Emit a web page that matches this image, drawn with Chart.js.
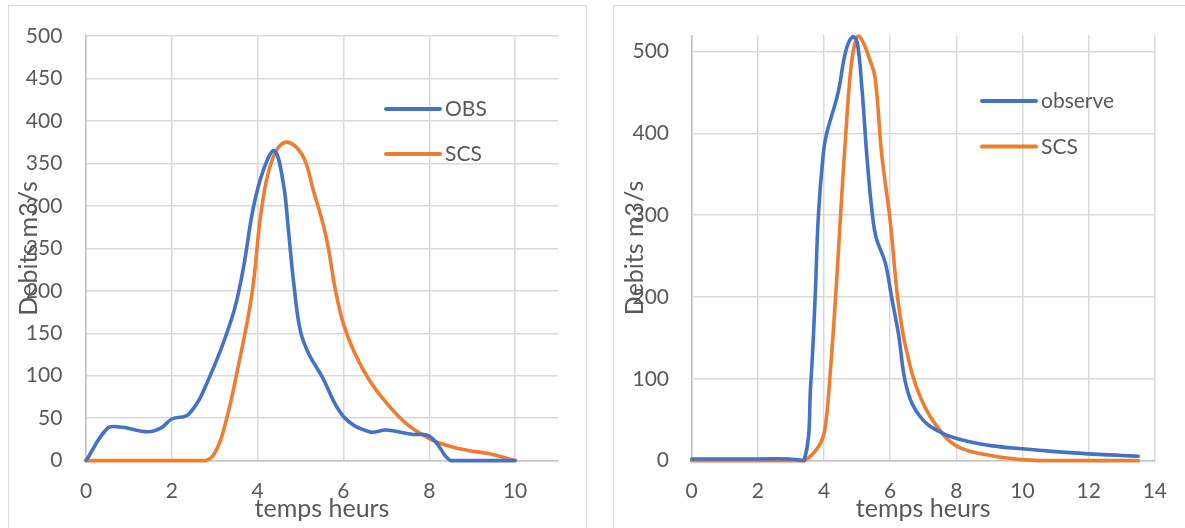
<!DOCTYPE html>
<html>
<head>
<meta charset="utf-8">
<script src="https://cdn.jsdelivr.net/npm/chart.js@4/dist/chart.umd.min.js"></script>
<style>
  html, body { margin: 0; padding: 0; background: #ffffff; }
  body { width: 1185px; height: 528px; position: relative; overflow: hidden; }
  .frame { position: absolute; border: 1px solid #d9d9d9; box-sizing: border-box; }
  .wrap { position: absolute; top: 0; height: 528px; }
  canvas { display: block; }
</style>
</head>
<body>
<div class="frame" style="left:8px; top:5px; width:579px; height:560px;"></div>
<div class="frame" style="left:613px; top:5px; width:620px; height:560px;"></div>
<div class="wrap" style="left:0; width:590px;"><canvas id="left" width="590" height="528"></canvas></div>
<div class="wrap" style="left:600px; width:585px;"><canvas id="right" width="585" height="528"></canvas></div>
<script>
// Hydrograph 1 (hours, m3/s)
const obsTime1 = [0, 0.5, 0.8, 1.45, 1.75, 2.0, 2.4, 2.85, 3.4, 3.65, 3.9, 4.14, 4.39, 4.6, 4.72, 4.85, 5.0, 5.2, 5.5, 6.0, 6.6, 7.0, 7.6, 7.95, 8.15, 8.5, 9.0, 10];
const obsFlow1 = [0, 38, 39.5, 34, 38.5, 49, 55, 95, 168, 222, 298, 343, 365, 326, 270, 205, 152, 125, 99, 52, 34, 36, 31, 30, 22, 0, 0, 0];
const scsTime1 = [0, 1, 2, 2.8, 3.07, 3.3, 3.47, 3.86, 4.09, 4.33, 4.64, 5.03, 5.3, 5.59, 5.82, 6.0, 6.25, 6.6, 7.0, 7.5, 8.0, 8.5, 8.9, 9.4, 10];
const scsFlow1 = [0, 0, 0, 0, 16, 54, 92, 194, 296, 353, 375, 361, 318, 265, 199, 161, 128, 95, 68, 42, 26, 16.5, 12, 8, 0];

// Hydrograph 2 (hours, m3/s)
const obsTime2 = [0, 1, 2, 2.95, 3.4, 3.6, 3.73, 3.83, 3.98, 4.08, 4.42, 4.66, 4.86, 5.0, 5.15, 5.3, 5.45, 5.58, 5.85, 6.05, 6.25, 6.5, 6.92, 7.56, 8.3, 9.1, 10, 11, 12, 13, 13.5];
const obsFlow2 = [2, 2, 2, 2, 0, 95, 198, 300, 376, 400, 449, 501, 518, 512, 453, 370, 305, 272, 242, 198, 155, 89, 53, 34, 24, 18, 14.4, 11, 8.2, 6.3, 5.3];
const scsTime2 = [0, 1, 2, 3, 3.4, 3.83, 4.02, 4.17, 4.35, 4.5, 4.65, 4.8, 4.92, 5.04, 5.2, 5.35, 5.54, 5.74, 6.0, 6.23, 6.48, 6.92, 7.56, 8.1, 9.08, 10, 10.5, 11, 12, 13, 13.5];
const scsFlow2 = [0, 0, 0, 0, 0, 17, 37, 98, 200, 300, 395, 475, 508, 519, 510, 494, 469, 376, 293, 198, 137, 77, 34, 16, 6, 1.2, 0, 0, 0, 0, 0];

// Axis settings
const xTicks1 = { min: 0, max: 11, step: 2 };
const yTicks1 = { min: 0, max: 500, step: 50 };
const xTicks2 = { min: 0, max: 14, step: 2 };
const yTicks2 = { min: 0, max: 520, step: 100 };

const labels1 = ['OBS', 'SCS'];
const labels2 = ['observe', 'SCS'];
const xTitle = 'temps heurs';
const yTitle = 'Debits m3/s';

const BLUE = '#4472C4';
const ORANGE = '#ED7D31';
const TEXT = '#595959';
const FONT = 'Lato, "Open Sans", sans-serif';

function pairs(xs, ys) { return xs.map((x, i) => ({ x: x, y: ys[i] })); }

// Legend drawn inside the plot area
const innerLegend = {
  id: 'innerLegend',
  afterDraw(chart, args, opts) {
    const ctx = chart.ctx;
    ctx.save();
    ctx.font = '21px ' + FONT;
    ctx.textBaseline = 'middle';
    ctx.textAlign = 'left';
    chart.data.datasets.forEach((ds, i) => {
      const y = opts.y + i * opts.gap;
      ctx.strokeStyle = ds.borderColor;
      ctx.lineWidth = 4;
      ctx.lineCap = 'round';
      ctx.beginPath();
      ctx.moveTo(opts.x, y);
      ctx.lineTo(opts.x + opts.len, y);
      ctx.stroke();
      ctx.fillStyle = TEXT;
      ctx.fillText(ds.label, opts.x + opts.len + 5, y + 0.5);
    });
    ctx.restore();
  }
};

function makeChart(id, series, labels, xt, yt, geom) {
  return new Chart(document.getElementById(id), {
    type: 'line',
    data: {
      datasets: [
        { label: labels[0], data: series[0], borderColor: BLUE, backgroundColor: BLUE },
        { label: labels[1], data: series[1], borderColor: ORANGE, backgroundColor: ORANGE }
      ]
    },
    options: {
      responsive: false,
      animation: false,
      events: [],
      layout: { padding: { left: 0, top: geom.top, right: geom.right, bottom: 0 } },
      elements: {
        line: { borderWidth: 3.6, tension: 0.4, fill: false, borderCapStyle: 'round', borderJoinStyle: 'round' },
        point: { radius: 0 }
      },
      datasets: { line: { clip: 8 } },
      plugins: {
        legend: { display: false },
        tooltip: { enabled: false },
        innerLegend: geom.legend
      },
      scales: {
        x: {
          type: 'linear',
          min: xt.min, max: xt.max,
          afterFit: s => { s.height = geom.xAxisH; },
          ticks: { stepSize: xt.step, includeBounds: false, color: TEXT, padding: geom.xTickPad, maxRotation: 0,
                   font: { family: FONT, size: 21 } },
          grid: { color: '#d9d9d9', lineWidth: 1.5, drawTicks: false },
          border: { color: '#c4c4c4', width: 1.5 },
          title: { display: true, text: xTitle, color: TEXT, font: { family: FONT, size: 25 },
                   padding: { top: 0, bottom: geom.xTitlePad } }
        },
        y: {
          type: 'linear',
          min: yt.min, max: yt.max,
          afterFit: s => { s.width = geom.yAxisW; },
          ticks: { stepSize: yt.step, includeBounds: false, color: TEXT, padding: geom.yTickPad,
                   font: { family: FONT, size: 21 } },
          grid: { color: '#d9d9d9', lineWidth: 1.5, drawTicks: false },
          border: { color: '#c4c4c4', width: 1.5 },
          title: { display: true, text: yTitle, color: TEXT, font: { family: FONT, size: 25 },
                   padding: { top: geom.yTitlePad, bottom: 0 } }
        }
      }
    },
    plugins: [innerLegend]
  });
}

makeChart('left',
  [pairs(obsTime1, obsFlow1), pairs(scsTime1, scsFlow1)],
  labels1, xTicks1, yTicks1,
  { top: 21, right: 32, yAxisW: 86, xAxisH: 67.4, xTickPad: 18, yTickPad: 23.6,
    xTitlePad: 4, yTitlePad: 14,
    legend: { x: 386, y: 109, len: 54, gap: 45 } });

makeChart('right',
  [pairs(obsTime2, obsFlow2), pairs(scsTime2, scsFlow2)],
  labels2, xTicks2, yTicks2,
  { top: 32, right: 17.8, yAxisW: 91.7, xAxisH: 67.4, xTickPad: 18, yTickPad: 22.7,
    xTitlePad: 4, yTitlePad: 19.6,
    legend: { x: 382, y: 101, len: 54, gap: 45.5 } });
</script>
</body>
</html>
